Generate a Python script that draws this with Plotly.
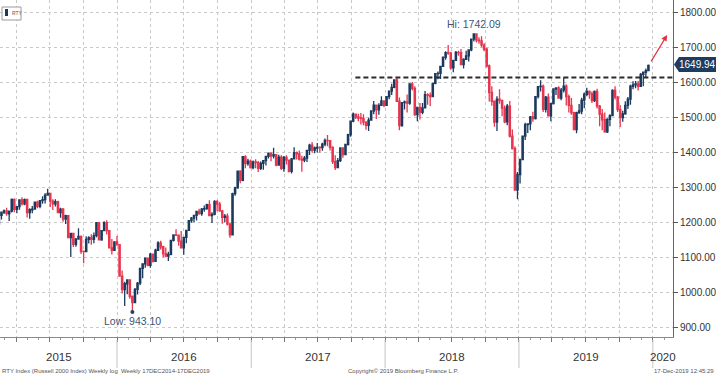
import pandas as pd
import plotly.graph_objects as go

# ---------------- data (weekly RTY candles) ----------------
first_week = "2015-02-13"

opens = [
    # 2015
    1195, 1220, 1229, 1233, 1224, 1232, 1265, 1237, 1245, 1264, 1253, 1265, 1228, 1236, 1238, 1258,
    1246, 1262, 1265, 1278, 1283, 1261, 1253, 1259, 1228, 1238, 1209, 1219, 1156, 1168, 1137, 1152,
    1160, 1117, 1116, 1151, 1156, 1151, 1162, 1199, 1150, 1176, 1199, 1176, 1127, 1120,
    # 2016
    1144, 1136, 1046, 1007, 1024, 1035, 988, 970, 1008, 1026, 1068, 1081, 1097, 1077, 1109, 1088,
    1120, 1141, 1130, 1110, 1103, 1108, 1148, 1164, 1163, 1146, 1127, 1157, 1177, 1205, 1212, 1220,
    1231, 1225, 1238, 1239, 1251, 1219, 1223, 1260, 1252, 1233, 1214, 1218, 1195, 1164, 1282, 1299,
    1347, 1320, 1388, 1368, 1375,
    # 2017
    1357, 1373, 1371, 1355, 1369, 1377, 1389, 1398, 1390, 1394, 1364, 1387, 1355, 1386, 1378, 1346,
    1382, 1400, 1396, 1381, 1378, 1384, 1406, 1421, 1407, 1413, 1415, 1414, 1424, 1435, 1434, 1415,
    1374, 1357, 1377, 1413, 1394, 1423, 1451, 1490, 1510, 1502, 1499, 1498, 1487, 1478, 1493, 1519,
    1536, 1522, 1535, 1548,
    # 2018
    1535, 1560, 1576, 1587, 1608, 1547, 1477, 1543, 1545, 1542, 1597, 1584, 1509, 1529, 1515, 1528,
    1566, 1564, 1560, 1598, 1626, 1627, 1647, 1673, 1686, 1685, 1643, 1664, 1687, 1686, 1652, 1667,
    1677, 1694, 1725, 1740, 1722, 1720, 1708, 1696, 1648, 1572, 1547, 1487, 1553, 1549, 1527, 1488,
    1533, 1447, 1411, 1292,
    # 2019
    1337, 1380, 1447, 1480, 1482, 1502, 1497, 1560, 1589, 1590, 1524, 1559, 1505, 1540, 1582, 1585,
    1556, 1579, 1590, 1560, 1535, 1514, 1466, 1514, 1519, 1550, 1567, 1575, 1568, 1549, 1575, 1533,
    1510, 1494, 1459, 1495, 1506, 1578, 1559, 1523, 1500, 1511, 1535, 1553, 1590, 1594, 1597, 1590,
    1624, 1630, 1635,
]
highs = [
    # 2015
    1222, 1231, 1237, 1242, 1232, 1268, 1269, 1246, 1265, 1272, 1268, 1268, 1240, 1247, 1260, 1262,
    1264, 1275, 1283, 1296, 1284, 1266, 1266, 1262, 1242, 1241, 1222, 1221, 1170, 1170, 1155, 1183,
    1162, 1119, 1160, 1160, 1166, 1171, 1200, 1201, 1178, 1203, 1206, 1178, 1152, 1146,
    # 2016
    1161, 1137, 1062, 1030, 1036, 1037, 990, 1012, 1029, 1070, 1083, 1098, 1098, 1112, 1111, 1124,
    1146, 1147, 1133, 1128, 1116, 1148, 1166, 1180, 1165, 1175, 1158, 1178, 1207, 1215, 1222, 1232,
    1239, 1241, 1248, 1253, 1263, 1229, 1263, 1263, 1258, 1235, 1224, 1225, 1198, 1285, 1302, 1347,
    1349, 1389, 1392, 1382, 1380,
    # 2017
    1377, 1381, 1376, 1374, 1378, 1390, 1400, 1400, 1414, 1395, 1394, 1392, 1390, 1392, 1380, 1384,
    1415, 1403, 1406, 1391, 1390, 1408, 1425, 1430, 1417, 1427, 1418, 1428, 1440, 1450, 1436, 1418,
    1392, 1384, 1415, 1414, 1425, 1454, 1491, 1515, 1512, 1511, 1513, 1510, 1490, 1500, 1520, 1548,
    1538, 1541, 1561, 1550,
    # 2018
    1560, 1578, 1597, 1610, 1615, 1558, 1544, 1549, 1566, 1598, 1602, 1590, 1530, 1542, 1542, 1576,
    1570, 1572, 1600, 1627, 1632, 1648, 1675, 1690, 1708, 1689, 1666, 1691, 1692, 1697, 1670, 1692,
    1694, 1725, 1742.09, 1741, 1730, 1733, 1713, 1700, 1652, 1590, 1549, 1561, 1581, 1552, 1535, 1539,
    1548, 1466, 1418, 1344,
    # 2019
    1382, 1449, 1485, 1484, 1505, 1517, 1562, 1590, 1607, 1595, 1562, 1569, 1543, 1584, 1586, 1590,
    1585, 1615, 1596, 1566, 1556, 1517, 1517, 1539, 1557, 1572, 1586, 1578, 1575, 1578, 1583, 1536,
    1525, 1515, 1498, 1510, 1581, 1590, 1562, 1536, 1520, 1547, 1559, 1594, 1604, 1605, 1605, 1628,
    1631, 1641, 1652,
]
lows = [
    # 2015
    1193, 1208, 1224, 1219, 1204, 1228, 1229, 1226, 1236, 1248, 1249, 1214, 1210, 1226, 1236, 1240,
    1240, 1253, 1254, 1276, 1244, 1235, 1245, 1226, 1213, 1202, 1195, 1155, 1101, 1129, 1130, 1150,
    1109, 1083, 1115, 1139, 1136, 1140, 1157, 1149, 1147, 1175, 1165, 1127, 1108, 1118,
    # 2016
    1133, 1046, 996, 960, 994, 981, 943.1, 969, 993, 1020, 1040, 1070, 1074, 1070, 1085, 1087,
    1118, 1122, 1100, 1100, 1089, 1106, 1145, 1161, 1133, 1125, 1107, 1140, 1177, 1199, 1200, 1205,
    1222, 1219, 1230, 1236, 1219, 1198, 1220, 1232, 1230, 1196, 1200, 1191, 1156, 1162, 1276, 1296,
    1312, 1318, 1355, 1362, 1354,
    # 2017
    1352, 1355, 1344, 1350, 1351, 1363, 1383, 1375, 1383, 1361, 1362, 1350, 1345, 1366, 1343, 1340,
    1380, 1380, 1377, 1345, 1372, 1373, 1393, 1400, 1398, 1400, 1400, 1405, 1418, 1418, 1406, 1367,
    1350, 1356, 1373, 1385, 1392, 1420, 1445, 1487, 1496, 1490, 1480, 1478, 1465, 1462, 1492, 1510,
    1496, 1508, 1534, 1530,
    # 2018
    1534, 1553, 1565, 1584, 1546, 1464, 1474, 1523, 1515, 1537, 1578, 1505, 1490, 1495, 1510, 1526,
    1537, 1533, 1560, 1596, 1610, 1611, 1645, 1666, 1680, 1637, 1630, 1662, 1677, 1651, 1641, 1666,
    1661, 1690, 1718, 1715, 1712, 1702, 1690, 1644, 1546, 1534, 1474, 1462, 1540, 1504, 1484, 1478,
    1443, 1409, 1291, 1266,
    # 2019
    1311, 1378, 1436, 1456, 1464, 1488, 1495, 1555, 1575, 1516, 1515, 1503, 1490, 1538, 1565, 1554,
    1550, 1572, 1535, 1515, 1508, 1464, 1455, 1511, 1510, 1527, 1561, 1554, 1542, 1545, 1526, 1475,
    1464, 1457, 1456, 1475, 1504, 1552, 1516, 1473, 1488, 1508, 1525, 1537, 1581, 1584, 1578, 1589,
    1590, 1615, 1633,
]
closes = [
    # 2015
    1221, 1229, 1233, 1225, 1232, 1266, 1237, 1245, 1264, 1253, 1265, 1228, 1236, 1238, 1258, 1246,
    1262, 1265, 1278, 1283, 1261, 1253, 1259, 1228, 1238, 1209, 1219, 1156, 1168, 1137, 1152, 1160,
    1117, 1116, 1151, 1156, 1151, 1162, 1199, 1150, 1176, 1199, 1176, 1127, 1120, 1144,
    # 2016
    1136, 1046, 1007, 1024, 1035, 988, 970, 1008, 1026, 1068, 1081, 1097, 1077, 1109, 1088, 1120,
    1141, 1130, 1110, 1103, 1108, 1148, 1164, 1163, 1146, 1127, 1157, 1177, 1205, 1212, 1220, 1231,
    1225, 1238, 1239, 1251, 1219, 1223, 1260, 1252, 1233, 1214, 1218, 1195, 1164, 1282, 1299, 1347,
    1320, 1388, 1368, 1375, 1357,
    # 2017
    1373, 1371, 1355, 1369, 1377, 1389, 1398, 1390, 1394, 1364, 1387, 1355, 1386, 1378, 1346, 1382,
    1400, 1396, 1381, 1378, 1384, 1406, 1421, 1407, 1413, 1415, 1414, 1424, 1435, 1434, 1415, 1374,
    1357, 1377, 1413, 1394, 1423, 1451, 1490, 1510, 1502, 1499, 1498, 1487, 1478, 1493, 1519, 1536,
    1522, 1535, 1548, 1535,
    # 2018
    1560, 1576, 1587, 1608, 1547, 1477, 1543, 1545, 1542, 1597, 1584, 1509, 1529, 1515, 1528, 1566,
    1564, 1560, 1598, 1626, 1627, 1647, 1673, 1686, 1685, 1643, 1664, 1687, 1686, 1652, 1667, 1677,
    1694, 1725, 1740, 1722, 1720, 1708, 1696, 1648, 1572, 1547, 1487, 1553, 1549, 1527, 1488, 1533,
    1447, 1411, 1292, 1337,
    # 2019
    1380, 1447, 1480, 1482, 1502, 1497, 1560, 1589, 1590, 1524, 1559, 1505, 1540, 1582, 1585, 1556,
    1579, 1590, 1560, 1535, 1514, 1466, 1514, 1519, 1550, 1567, 1575, 1568, 1549, 1575, 1533, 1510,
    1494, 1459, 1495, 1506, 1578, 1559, 1523, 1500, 1511, 1535, 1553, 1590, 1594, 1597, 1590, 1624,
    1630, 1635, 1649.94,
]

y_ticks = [900, 1000, 1100, 1200, 1300, 1400, 1500, 1600, 1700, 1800]
year_labels = ["2015", "2016", "2017", "2018", "2019", "2020"]
hi_value, hi_date = 1742.09, "2018-08-31"
low_value, low_date = 943.10, "2016-02-12"
last_value = 1649.94
resistance = 1615

# ---------------- layout constants ----------------
W, H = 716, 376
ML, MR, MT, MB = 0, 43, 0, 39
PW, PH = W - ML - MR, H - MT - MB
X_RANGE = ["2015-02-16", "2020-02-25"]
Y_RANGE = [871.4, 1837.1]
FONT = "Liberation Sans, Arial, sans-serif"
NAVY = "#1c3a5e"
RED = "#e8354f"
GRID = "#c9c9c9"


def px(xp):
    return (xp - ML) / PW


def py(yp):
    return 1 - (yp - MT) / PH


dates = pd.date_range(first_week, periods=len(closes), freq="W-FRI")

fig = go.Figure()
fig.add_trace(go.Candlestick(
    x=dates, open=opens, high=highs, low=lows, close=closes,
    increasing=dict(line=dict(color=NAVY, width=1.3), fillcolor=NAVY),
    decreasing=dict(line=dict(color=RED, width=1.3), fillcolor=RED),
    whiskerwidth=0, showlegend=False, hoverinfo="skip",
))
fig.add_trace(go.Scatter(
    x=[low_date], y=[low_value], mode="markers",
    marker=dict(size=4, color="#2a3f5a"), showlegend=False, hoverinfo="skip",
))

shapes = []
annotations = []

# resistance dashed line
shapes.append(dict(type="line", xref="x", yref="y", x0="2017-10-12", x1=X_RANGE[1],
                   y0=resistance, y1=resistance,
                   line=dict(color="#2b2b2b", width=2, dash="5px,3px")))

# year separators and labels
year_bounds = ["2016-01-01", "2017-01-01", "2018-01-01", "2019-01-01", "2020-01-01"]
for b in year_bounds:
    shapes.append(dict(type="line", xref="x", yref="paper", x0=b, x1=b,
                       y0=py(340), y1=py(368), line=dict(color="#c4c4c4", width=1)))
edges = [X_RANGE[0]] + year_bounds + [X_RANGE[1]]
for i, lab in enumerate(year_labels):
    a, b = pd.Timestamp(edges[i]), pd.Timestamp(edges[i + 1])
    mid = a + (b - a) / 2
    annotations.append(dict(x=mid, y=py(357), xref="x", yref="paper", text=lab,
                            showarrow=False, font=dict(family=FONT, size=11.5, color="#333333"),
                            xanchor="center", yanchor="middle"))

# Hi / Low labels
annotations.append(dict(x=hi_date, y=py(24), xref="x", yref="paper", text=f"Hi: {hi_value:.2f}",
                        showarrow=False, font=dict(family=FONT, size=10.5, color="#3d5675"),
                        xanchor="center", yanchor="middle"))
annotations.append(dict(x=low_date, y=py(321), xref="x", yref="paper", text=f"Low: {low_value:.2f}",
                        showarrow=False, font=dict(family=FONT, size=10.5, color="#3d5675"),
                        xanchor="center", yanchor="middle"))

# red arrow
annotations.append(dict(x="2020-02-09", y=1737, ax="2019-12-25", ay=1657,
                        xref="x", yref="y", axref="x", ayref="y", text="",
                        showarrow=True, arrowhead=2, arrowsize=1, arrowwidth=1.2,
                        arrowcolor="#e0303f"))

# last price tag
yc = 64.5
shapes.append(dict(type="path", xref="paper", yref="paper",
                   path=(f"M {px(674)},{py(yc)} L {px(679)},{py(57)} L {px(716)},{py(57)} "
                         f"L {px(716)},{py(72)} L {px(679)},{py(72)} Z"),
                   fillcolor="#1d3c60", line=dict(width=0)))
annotations.append(dict(x=px(697.5), y=py(yc), xref="paper", yref="paper",
                        text=f"{last_value:.2f}", showarrow=False,
                        font=dict(family=FONT, size=10, color="white"),
                        xanchor="center", yanchor="middle"))

# legend box top-left
shapes.append(dict(type="rect", xref="paper", yref="paper", x0=px(2), x1=px(21),
                   y0=py(20), y1=py(7), fillcolor="white",
                   line=dict(color="#9a9a9a", width=1)))
shapes.append(dict(type="rect", xref="paper", yref="paper", x0=px(5), x1=px(8),
                   y0=py(16), y1=py(9), fillcolor=NAVY, line=dict(width=0)))
annotations.append(dict(x=px(9.5), y=py(12.8), xref="paper", yref="paper", text="RTY",
                        showarrow=False, font=dict(family=FONT, size=5, color="#555555"),
                        xanchor="left", yanchor="middle"))

# footer texts
foot_font = dict(family=FONT, size=6, color="#555555")
annotations.append(dict(x=px(0), y=py(370.5), xref="paper", yref="paper",
                        text="RTY Index (Russell 2000 Index) Weekly log  Weekly 17DEC2014-17DEC2019",
                        showarrow=False, font=foot_font, xanchor="left", yanchor="middle"))
annotations.append(dict(x=px(403), y=py(370.5), xref="paper", yref="paper",
                        text="Copyright\u00a9 2019 Bloomberg Finance L.P.",
                        showarrow=False, font=foot_font, xanchor="center", yanchor="middle"))
annotations.append(dict(x=px(716), y=py(370.5), xref="paper", yref="paper",
                        text="17-Dec-2019 12:45:29",
                        showarrow=False, font=foot_font, xanchor="right", yanchor="middle"))

fig.update_layout(
    width=W, height=H,
    margin=dict(l=ML, r=MR, t=MT, b=MB, pad=0),
    paper_bgcolor="white", plot_bgcolor="white",
    font=dict(family=FONT, size=10, color="#333333"),
    shapes=shapes, annotations=annotations,
    showlegend=False,
    xaxis=dict(
        type="date", range=X_RANGE, rangeslider=dict(visible=False),
        showticklabels=False, dtick="M3", tick0="2015-01-01",
        showgrid=True, gridcolor=GRID, griddash="dot", gridwidth=1,
        ticks="outside", ticklen=4, tickcolor="#777777",
        minor=dict(dtick="M1", ticks="outside", ticklen=2, tickcolor="#999999", showgrid=False),
        showline=True, linecolor="#8a8a8a", linewidth=1, zeroline=False,
    ),
    yaxis=dict(
        side="right", range=Y_RANGE, tickvals=y_ticks, tickformat=".2f",
        showgrid=True, gridcolor=GRID, griddash="dot", gridwidth=1,
        ticks="outside", ticklen=4, tickcolor="#555555",
        showline=True, linecolor="#666666", linewidth=1, zeroline=False,
        tickfont=dict(family=FONT, size=10, color="#333333"),
    ),
)

fig.write_html("out.html", config={"displayModeBar": False},
               post_script="document.body.style.margin='0';document.body.style.overflow='hidden';")
